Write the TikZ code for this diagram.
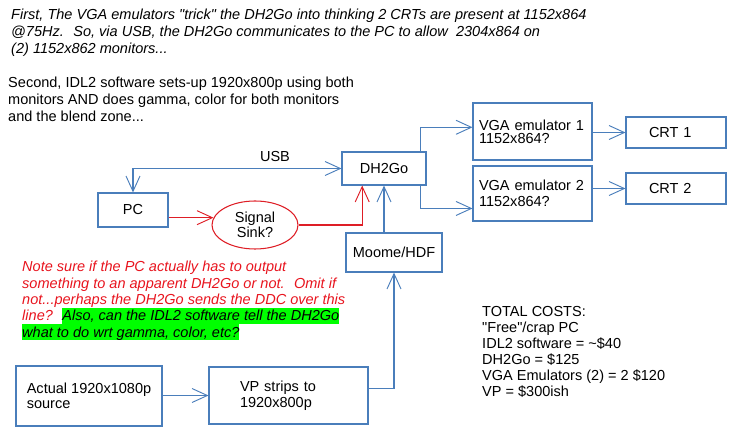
\documentclass[tikz,border=0pt]{standalone}
\usepackage{fontspec}
\setmainfont{Liberation Sans}
\usepackage{xcolor}
\usepackage{tikz}
\usetikzlibrary{arrows.meta,shapes.geometric}

\definecolor{lblue}{RGB}{74,126,187}
\definecolor{lred}{RGB}{222,30,38}
\definecolor{tred}{RGB}{232,20,30}
\definecolor{hlgreen}{RGB}{0,255,0}
\newcommand{\txtsize}{\fontsize{12.4}{14.5}\selectfont}
\newcommand{\hlgr}[1]{{\setlength{\fboxsep}{0pt}\colorbox{hlgreen}{\color{black}\rule[-2.5pt]{0pt}{13.5pt}#1}}}
\newcommand{\dq}{\textquotedbl}

\begin{document}
\begin{tikzpicture}[
    x=0.03cm, y=-0.03cm,
    opentip/.tip={Straight Barb[length=4.6mm,width=4.2mm,line width=0.8pt]},
    box/.style={draw=lblue, line width=0.9pt, inner sep=0pt, align=center, font=\txtsize},
    lbox/.style={box, align=left},
    wire/.style={draw=lblue, line width=0.9pt, -opentip},
    rwire/.style={wire, draw=lred},
    txt/.style={anchor=north west, inner sep=0pt, align=left, font=\txtsize}
  ]
  \useasboundingbox (0,0) rectangle (732,430);

  % notes
  \node[txt, font=\txtsize\itshape] (intro) at (11,9)
    {First, The VGA emulators \dq trick\dq{} the DH2Go into thinking 2 CRTs are present at 1152x864\\
     @75Hz.~ So, via USB, the DH2Go communicates to the PC to allow~ 2304x864 on\\
     (2) 1152x862 monitors...};
  \node[txt] (second) at (8,77)
    {Second, IDL2 software sets-up 1920x800p using both\\
     monitors AND does gamma, color for both monitors\\
     and the blend zone...};
  \node[txt, text=tred, font=\fontsize{12.4}{14}\selectfont\itshape] (note) at (22,261)
    {Note sure if the PC actually has to output\\
     something to an apparent DH2Go or not.~ Omit if\\
     not...perhaps the DH2Go sends the DDC over this\\
     line?~ \hlgr{Also, can the IDL2 software tell the DH2Go}\\
     \hlgr{what to do wrt gamma, color, etc?}};
  \node[txt, font=\fontsize{12.4}{13.6}\selectfont] (costs) at (482,306)
    {TOTAL COSTS:\\
     \dq Free\dq/crap PC\\
     IDL2 software = \textasciitilde\$40\\
     DH2Go = \$125\\
     VGA Emulators (2) = 2 \$120\\
     VP = \$300ish};

  % blocks
  \node[box, minimum width=2.1cm, minimum height=1.02cm] (pc) at (133,210) {PC};
  \node[box, draw=lred, ellipse, minimum width=2.58cm, minimum height=1.44cm,
        font=\fontsize{12.4}{12.75}\selectfont] (sink) at (255,225) {Signal\\Sink?};
  \node[box, minimum width=2.52cm, minimum height=0.99cm] (dh) at (384,168.5) {DH2Go};
  \node[box, minimum width=2.88cm, minimum height=1.17cm] (moome) at (394,252.5) {Moome/HDF};
  \node[lbox, inner xsep=0.18cm, text width=3.21cm, minimum height=1.71cm,
        font=\fontsize{12.4}{10.8}\selectfont] (vga1) at (532.5,131.5) {VGA emulator 1\\1152x864?};
  \node[lbox, inner xsep=0.18cm, text width=3.21cm, minimum height=1.65cm,
        font=\fontsize{12.4}{13.6}\selectfont] (vga2) at (532.5,193.5) {VGA emulator 2\\1152x864?};
  \node[lbox, inner xsep=0.69cm, text width=1.62cm, minimum height=0.93cm] (crt1) at (676,132.5) {CRT 1};
  \node[lbox, inner xsep=0.69cm, text width=1.62cm, minimum height=0.93cm] (crt2) at (676,188.5) {CRT 2};
  \node[lbox, minimum width=4.38cm, minimum height=1.8cm,
        font=\fontsize{12.4}{12.75}\selectfont] (src) at (89,396) {Actual 1920x1080p\\source};
  \node[lbox, inner xsep=0.93cm, text width=2.91cm, minimum height=1.71cm,
        font=\fontsize{12.4}{13.6}\selectfont] (vp) at (288.5,395.5) {VP strips to\\1920x800p};

  \node[font=\txtsize] (usb) at (275,157) {USB};

  % connections
  \draw[wire, opentip-opentip] (pc.north) |- (dh.west);
  \draw[rwire] (pc.east |- sink.170) -- (sink.170);
  \draw[rwire] (sink.east) -| (dh.218);
  \draw[wire] (dh.south |- moome.north) -- (dh.south);
  \draw[wire] (dh.25) |- (vga1.176);
  \draw[wire] (dh.-25) |- (vga2.194);
  \draw[wire] (vga1.east |- crt1.west) -- (crt1.west);
  \draw[wire] (vga2.east |- crt2.west) -- (crt2.west);
  \draw[wire] (src.east |- vp.west) -- (vp.west);
  \draw[wire] (vp.5) -| (moome.south);
\end{tikzpicture}
\end{document}
